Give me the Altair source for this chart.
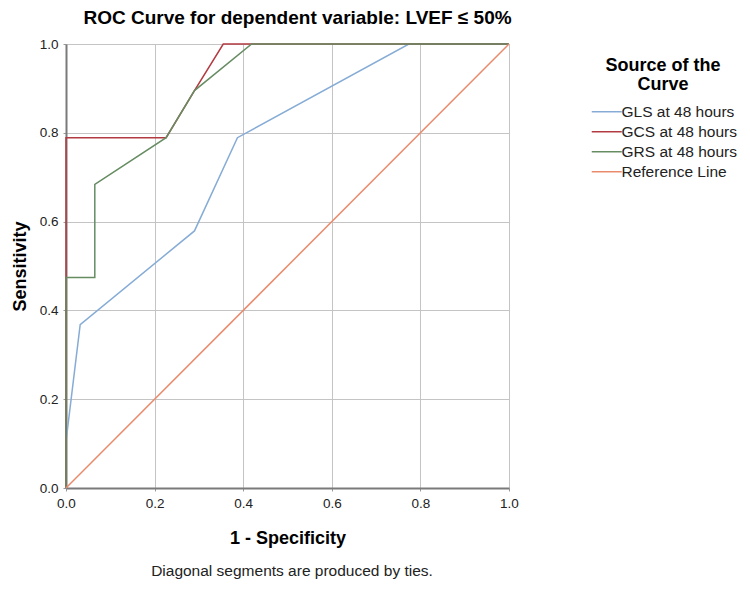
import altair as alt
import pandas as pd

# ROC curve coordinates (1 - specificity, sensitivity) per marker
gls_x = [0.0, 0.0, 0.032, 0.290, 0.387, 0.774, 1.0]
gls_y = [0.0, 0.105, 0.368, 0.579, 0.789, 1.0, 1.0]

gcs_x = [0.0, 0.0, 0.226, 0.290, 0.355, 1.0]
gcs_y = [0.0, 0.789, 0.789, 0.895, 1.0, 1.0]

grs_x = [0.0, 0.0, 0.065, 0.065, 0.226, 0.290, 0.419, 1.0]
grs_y = [0.0, 0.474, 0.474, 0.684, 0.789, 0.895, 1.0, 1.0]

ref_x = [0.0, 1.0]
ref_y = [0.0, 1.0]

series_names = ["GLS at 48 hours", "GCS at 48 hours", "GRS at 48 hours", "Reference Line"]
series_colors = ["#86acd6", "#b23a40", "#668c62", "#ea8a6c"]

rows = []
for name, xs, ys in zip(series_names,
                        [gls_x, gcs_x, grs_x, ref_x],
                        [gls_y, gcs_y, grs_y, ref_y]):
    for i, (xv, yv) in enumerate(zip(xs, ys)):
        rows.append({"Source": name, "fpr": xv, "tpr": yv, "step": i})
df = pd.DataFrame(rows)

FONT = "Liberation Sans"
ticks = [0.0, 0.2, 0.4, 0.6, 0.8, 1.0]

axis_style = dict(
    values=ticks, format=".1f", labelFlush=False, labelOverlap=False,
    labelFont=FONT, labelFontSize=13.5, labelColor="#222222", labelPadding=5,
    titleFont=FONT, titleFontSize=18, titleFontWeight="bold", titleColor="#000000",
    gridColor="#c4c4c4", gridWidth=1, gridOpacity=1,
    domainColor="#7a7a7a", domainWidth=2,
    tickColor="#9a9a9a", tickSize=3,
)

# wide, flat legend swatch: a 30px horizontal stroke on a 10px symbol cell
swatch = "M-1,0H5"

lines = alt.Chart(df).mark_line(strokeWidth=1.5, clip=False).encode(
    x=alt.X("fpr:Q", scale=alt.Scale(domain=[0, 1], nice=False, zero=True),
            axis=alt.Axis(title="1 - Specificity", titlePadding=20, **axis_style)),
    y=alt.Y("tpr:Q", scale=alt.Scale(domain=[0, 1], nice=False, zero=True),
            axis=alt.Axis(title="Sensitivity", titlePadding=10, **axis_style)),
    color=alt.Color("Source:N",
                    scale=alt.Scale(domain=series_names, range=series_colors),
                    sort=series_names,
                    legend=alt.Legend(
                        title=["Source of the", "Curve"],
                        orient="none", legendX=523, legendY=13,
                        titleFontSize=18, titleFont=FONT, titleFontWeight="bold",
                        titleColor="#000000", titleAlign="center", titleAnchor="middle",
                        titleLineHeight=19, titlePadding=10,
                        labelFontSize=15.5, labelFont=FONT, labelColor="#222222",
                        labelOffset=17, symbolType=swatch, symbolSize=100,
                        symbolStrokeWidth=1.5, rowPadding=3)),
    order="step:Q",
    detail="Source:N",
)

note_df = pd.DataFrame({"note": ["Diagonal segments are produced by ties."]})
footnote = alt.Chart(note_df).mark_text(
    font=FONT, fontSize=15.5, color="#222222", align="center", baseline="alphabetic"
).encode(x=alt.value(226), y=alt.value(532), text="note:N")

chart = alt.layer(lines, footnote).properties(
    width=443,
    height=444,
    autosize=alt.AutoSizeParams(type="none"),
    padding={"left": 66, "top": 44, "right": 241, "bottom": 104},
    title=alt.TitleParams("ROC Curve for dependent variable: LVEF \u2264 50%",
                          font=FONT, fontSize=19, fontWeight="bold", color="#000000",
                          anchor="middle", dx=10, offset=9),
).configure_view(stroke=None).configure(background="#ffffff")

chart.save("out.html", embed_options={"renderer": "svg", "actions": False})
